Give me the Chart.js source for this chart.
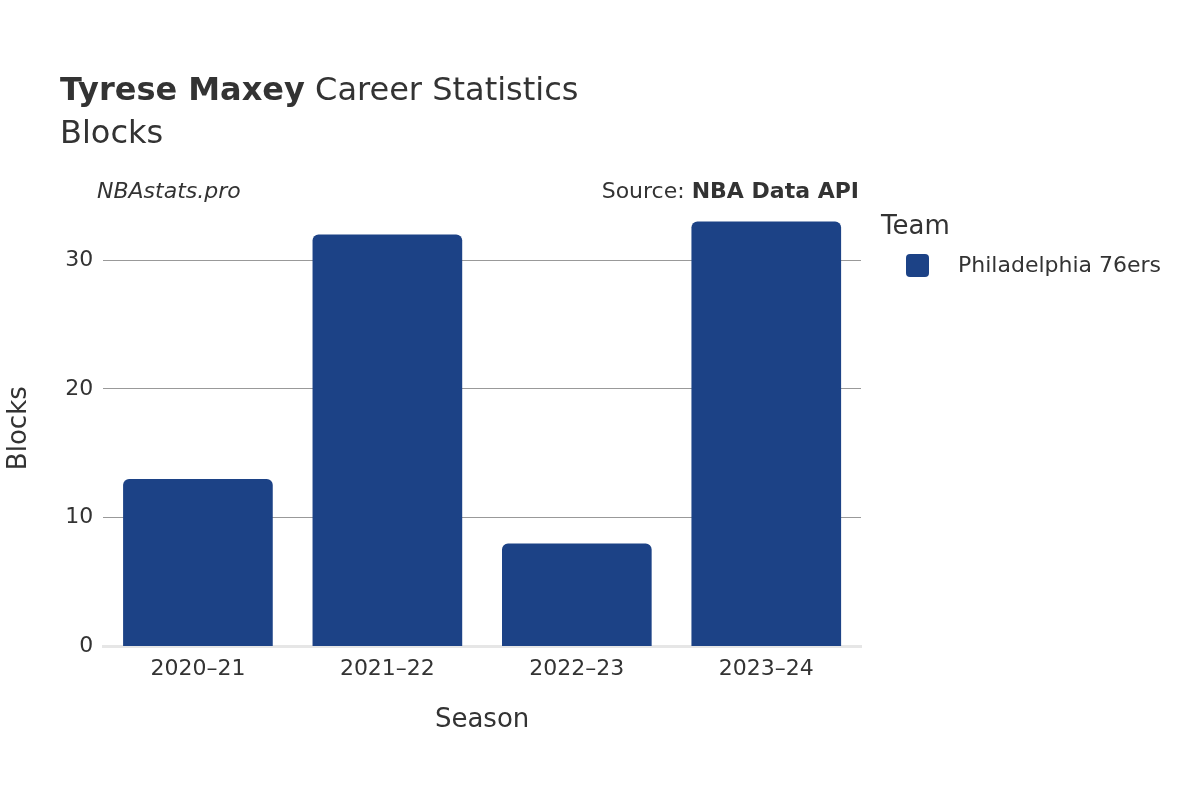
<!DOCTYPE html>
<html>
<head>
<meta charset="utf-8">
<script src="https://cdn.jsdelivr.net/npm/chart.js@4"></script>
<style>
  body { margin: 0; background: #fff; font-family: "DejaVu Sans", sans-serif; color: #333; }
  #wrap { position: relative; width: 1200px; height: 800px; }
  canvas { position: absolute; left: 0; top: 0; }
  .txt { position: absolute; white-space: nowrap; }
</style>
</head>
<body>
<div id="wrap">
  <canvas id="chart" width="1200" height="800"></canvas>
  <div class="txt" style="left:60px;top:70px;font-size:32px;"><b>Tyrese Maxey</b> Career Statistics</div>
  <div class="txt" style="left:60px;top:113px;font-size:32px;">Blocks</div>
  <div class="txt" style="left:97px;top:178px;font-size:22px;font-style:italic;">NBAstats.pro</div>
  <div class="txt" style="right:341px;top:178px;font-size:22px;">Source: <b>NBA Data API</b></div>
  <div class="txt" style="left:881px;top:210px;font-size:26px;">Team</div>
  <div class="txt" style="left:906px;top:254px;width:23px;height:23px;background:#1c4286;border-radius:4px;"></div>
  <div class="txt" style="left:958px;top:252px;font-size:22px;">Philadelphia 76ers</div>
</div>
<script>
const seasons = ['2020–21', '2021–22', '2022–23', '2023–24'];
const blocks = [13, 32, 8, 33];
const yTicks = [0, 10, 20, 30];

const ctx = document.getElementById('chart');
new Chart(ctx, {
  type: 'bar',
  data: {
    labels: seasons,
    datasets: [{
      label: 'Philadelphia 76ers',
      data: blocks,
      backgroundColor: '#1c4286',
      borderRadius: { topLeft: 6, topRight: 6 },
      borderSkipped: 'bottom',
      barPercentage: 0.79,
      categoryPercentage: 1
    }]
  },
  options: {
    responsive: false,
    animation: false,
    layout: { padding: { left: 0, right: 339, top: 210, bottom: 60 } },
    plugins: { legend: { display: false }, tooltip: { enabled: false } },
    scales: {
      x: {
        grid: { display: false },
        border: { color: '#e6e6e6', width: 3 },
        ticks: { color: '#333', font: { family: 'DejaVu Sans', size: 22 }, padding: 2 },
        title: { display: true, text: 'Season', color: '#333', font: { family: 'DejaVu Sans', size: 26 }, padding: { top: 20 } }
      },
      y: {
        min: 0,
        max: 33.9,
        afterBuildTicks: axis => { axis.ticks = yTicks.map(v => ({ value: v })); },
        grid: { color: '#999', drawTicks: false },
        border: { display: false },
        ticks: { color: '#333', font: { family: 'DejaVu Sans', size: 22 }, padding: 10 },
        title: { display: true, text: 'Blocks', color: '#333', font: { family: 'DejaVu Sans', size: 26 }, padding: { bottom: 20 } }
      }
    }
  }
});
</script>
</body>
</html>
